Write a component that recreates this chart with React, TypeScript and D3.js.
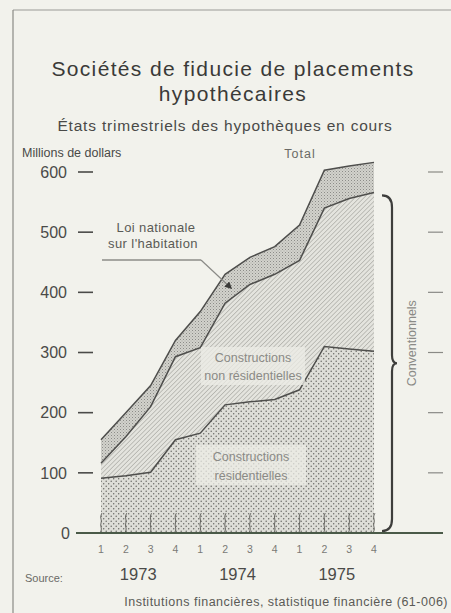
import React from "react";
import * as d3 from "d3";

const quarters = ["1", "2", "3", "4", "1", "2", "3", "4", "1", "2", "3", "4"];
const years = ["1973", "1974", "1975"];
const totalValues = [155, 200, 245, 320, 368, 430, 458, 476, 512, 603, 610, 616];
const conventionalValues = [116, 160, 210, 293, 308, 382, 413, 430, 453, 540, 556, 566];
const residentialValues = [91, 95, 101, 155, 166, 213, 218, 222, 238, 310, 306, 302];
const yTicks = [0, 100, 200, 300, 400, 500, 600];

const W = 451;
const H = 613;
const FONT = "'Liberation Sans', Arial, sans-serif";
const BG = "#f2f2ec";
const TEXT = "#4a4a48";
const LINE = "#4e4e4c";

export default function App() {
  const x = d3.scaleLinear().domain([0, quarters.length - 1]).range([101, 374]);
  const y = d3.scaleLinear().domain([0, 600]).range([533, 172]);
  const idx = d3.range(quarters.length);

  const resArea = d3.area<number>().x((i) => x(i)).y0(y(0)).y1((i) => y(residentialValues[i]));
  const nonResArea = d3
    .area<number>()
    .x((i) => x(i))
    .y0((i) => y(residentialValues[i]))
    .y1((i) => y(conventionalValues[i]));
  const nhaArea = d3
    .area<number>()
    .x((i) => x(i))
    .y0((i) => y(conventionalValues[i]))
    .y1((i) => y(totalValues[i]));
  const mkLine = (vals: number[]) => d3.line<number>().x((i) => x(i)).y((i) => y(vals[i]))(idx) || "";

  const squiggle = (i: number) => {
    const pts: [number, number][] = [
      [x(i) - 1, y(0)],
      [x(i) + 1, y(0) - 4],
      [x(i) - 1, y(0) - 8],
      [x(i) + 1, y(0) - 12],
      [x(i) - 1, y(0) - 16],
      [x(i) + 1, y(0) - 20],
    ];
    return d3.line().curve(d3.curveBasis)(pts) || "";
  };

  // brace
  const bx = 392;
  const bTop = y(conventionalValues[conventionalValues.length - 1]) + 3;
  const bBot = y(0) - 2;
  const bMid = (bTop + bBot) / 2;
  const brace = `M ${bx - 10} ${bTop} Q ${bx} ${bTop} ${bx} ${bTop + 12} L ${bx} ${bMid - 8} Q ${bx} ${bMid} ${bx + 5} ${bMid} Q ${bx} ${bMid} ${bx} ${bMid + 8} L ${bx} ${bBot - 12} Q ${bx} ${bBot} ${bx - 10} ${bBot}`;

  return (
    <svg width={W} height={H} style={{ position: "absolute", left: 0, top: 0, background: BG }}>
      <defs>
        <pattern id="dots" width="5" height="5" patternUnits="userSpaceOnUse">
          <rect width="5" height="5" fill="#dedeD8" />
          <circle cx="1.2" cy="1.2" r="0.75" fill="#6a6a66" />
          <circle cx="3.7" cy="3.7" r="0.75" fill="#6a6a66" />
        </pattern>
        <pattern id="stripes" width="3.2" height="3.2" patternUnits="userSpaceOnUse" patternTransform="rotate(45)">
          <rect width="3.2" height="3.2" fill="#e4e4de" />
          <line x1="0" y1="0" x2="0" y2="3.2" stroke="#9e9e98" strokeWidth="1.1" />
        </pattern>
        <pattern id="cross" width="3" height="3" patternUnits="userSpaceOnUse">
          <rect width="3" height="3" fill="#d2d2cc" />
          <rect x="0" y="0" width="1" height="1" fill="#8c8c88" />
          <rect x="1.5" y="1.5" width="1" height="1" fill="#a8a8a2" />
        </pattern>
        <marker id="arrow" viewBox="0 0 10 10" refX="8" refY="5" markerWidth="6" markerHeight="6" orient="auto">
          <path d="M0,0 L10,5 L0,10 z" fill="#3a3a38" />
        </marker>
      </defs>

      {/* frame */}
      <line x1={13} y1={10} x2={451} y2={10} stroke="#9a9a96" strokeWidth={1} />
      <line x1={13} y1={10} x2={13} y2={613} stroke="#8a8a86" strokeWidth={1.2} />

      {/* titles */}
      <text x={233} y={76} textAnchor="middle" fontFamily={FONT} fontSize={21} fill="#3a3a38" letterSpacing={1.35}>
        Sociétés de fiducie de placements
      </text>
      <text x={233} y={101} textAnchor="middle" fontFamily={FONT} fontSize={21} fill="#3a3a38" letterSpacing={1.35}>
        hypothécaires
      </text>
      <text x={225} y={131} textAnchor="middle" fontFamily={FONT} fontSize={15.5} fill={TEXT} letterSpacing={0.8}>
        États trimestriels des hypothèques en cours
      </text>
      <text x={22} y={157} fontFamily={FONT} fontSize={12.5} fill={TEXT}>
        Millions de dollars
      </text>
      <text x={300} y={158} textAnchor="middle" fontFamily={FONT} fontSize={12.5} fill="#6a6a66" letterSpacing={1}>
        Total
      </text>

      {/* areas */}
      <path d={resArea(idx) || ""} fill="url(#dots)" />
      <path d={nonResArea(idx) || ""} fill="url(#stripes)" />
      <path d={nhaArea(idx) || ""} fill="url(#cross)" />
      {idx.map((i) => (
        <path key={"sq" + i} d={squiggle(i)} fill="none" stroke="#5a5a56" strokeWidth={0.9} />
      ))}
      <path d={mkLine(residentialValues)} fill="none" stroke={LINE} strokeWidth={1.5} />
      <path d={mkLine(conventionalValues)} fill="none" stroke={LINE} strokeWidth={1.5} />
      <path d={mkLine(totalValues)} fill="none" stroke={LINE} strokeWidth={1.5} />

      {/* area labels */}
      <rect x={201} y={347} width={104} height={38} fill="#ececE6" opacity={0.75} />
      <text x={253} y={362} textAnchor="middle" fontFamily={FONT} fontSize={12.5} fill="#8a8a86">
        Constructions
      </text>
      <text x={253} y={380} textAnchor="middle" fontFamily={FONT} fontSize={12.5} fill="#8a8a86">
        non résidentielles
      </text>
      <rect x={196} y={445} width={110} height={40} fill="#ececE6" opacity={0.75} />
      <text x={251} y={461} textAnchor="middle" fontFamily={FONT} fontSize={12.5} fill="#8a8a86">
        Constructions
      </text>
      <text x={251} y={480} textAnchor="middle" fontFamily={FONT} fontSize={12.5} fill="#8a8a86">
        résidentielles
      </text>

      {/* NHA label */}
      <text x={156} y={232} textAnchor="middle" fontFamily={FONT} fontSize={13} fill="#5a5a56" letterSpacing={0.4}>
        Loi nationale
      </text>
      <text x={153} y={248} textAnchor="middle" fontFamily={FONT} fontSize={13} fill="#5a5a56" letterSpacing={0.4}>
        sur l'habitation
      </text>
      <line x1={102} y1={260} x2={201} y2={260} stroke="#5a5a56" strokeWidth={1.2} />
      <line x1={201} y1={260} x2={231} y2={288} stroke="#8a8a86" strokeWidth={1.2} markerEnd="url(#arrow)" />

      {/* y axis */}
      {yTicks.map((t) => (
        <g key={"t" + t}>
          <text x={t === 0 ? 70 : 67} y={y(t)} dy="0.36em" textAnchor="end" fontFamily={FONT} fontSize={16} fill={TEXT}>
            {t}
          </text>
          {t > 0 && <line x1={78} x2={93} y1={y(t)} y2={y(t)} stroke="#4a4a48" strokeWidth={1.6} />}
          {t > 0 && <line x1={428} x2={443} y1={y(t)} y2={y(t)} stroke="#8a8a86" strokeWidth={1.2} />}
        </g>
      ))}
      <line x1={76} x2={443} y1={y(0)} y2={y(0)} stroke="#4a5a48" strokeWidth={2} />

      {/* brace */}
      <path d={brace} fill="none" stroke="#3e3e3c" strokeWidth={2.2} />
      <text
        transform={`translate(416, ${bMid - 20}) rotate(-90)`}
        textAnchor="middle"
        fontFamily={FONT}
        fontSize={12.5}
        fill="#8a8a86"
      >
        Conventionnels
      </text>

      {/* x axis */}
      {quarters.map((q, i) => (
        <text key={"q" + i} x={x(i)} y={553} textAnchor="middle" fontFamily={FONT} fontSize={10.5} fill="#7a7a76">
          {q}
        </text>
      ))}
      {years.map((yr, k) => (
        <text
          key={yr}
          x={(x(k * 4 + 1) + x(k * 4 + 2)) / 2}
          y={580}
          textAnchor="middle"
          fontFamily={FONT}
          fontSize={16.5}
          fill={TEXT}
        >
          {yr}
        </text>
      ))}
      <text x={25} y={582} fontFamily={FONT} fontSize={11} fill="#6a6a66">
        Source:
      </text>
      <text x={448} y={606} textAnchor="end" fontFamily={FONT} fontSize={12.5} fill="#5a5a56" letterSpacing={0.5}>
        Institutions financières, statistique financière (61-006)
      </text>
    </svg>
  );
}
